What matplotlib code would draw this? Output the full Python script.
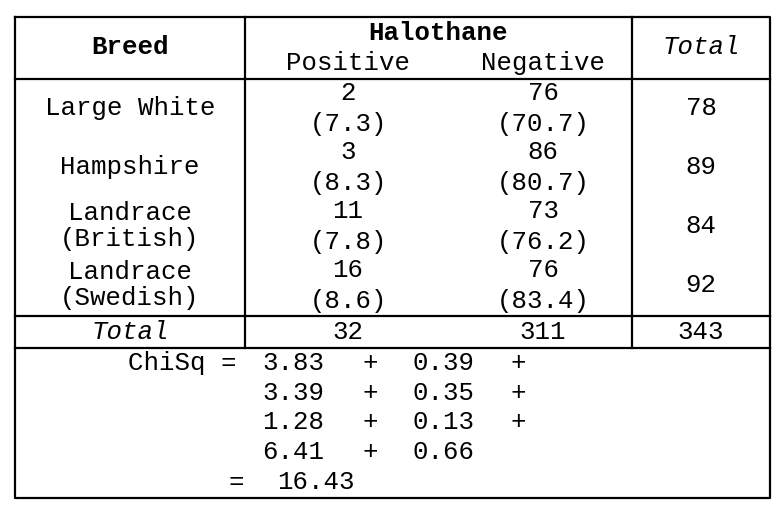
import matplotlib
matplotlib.use("Agg")
import matplotlib.pyplot as plt

breeds = ["Large White", "Hampshire", "Landrace\n(British)", "Landrace\n(Swedish)"]
positive = [2, 3, 11, 16]
negative = [76, 86, 73, 76]
exp_pos = [7.3, 8.3, 7.8, 8.6]
exp_neg = [70.7, 80.7, 76.2, 83.4]
totals = [78, 89, 84, 92]
total_pos, total_neg, grand_total = 32, 311, 343
chi_pos = [3.83, 3.39, 1.28, 6.41]
chi_neg = [0.39, 0.35, 0.13, 0.66]
chi_total = 16.43

fig = plt.figure(figsize=(7.81, 5.13), dpi=100)
ax = fig.add_axes([0, 0, 1, 1])
ax.set_xlim(0, 781); ax.set_ylim(513, 0); ax.axis("off")
F = dict(family="Liberation Mono", fontsize=18.5, ha="center", va="center", color="black")
lw = 1.6
ax.plot([15, 770, 770, 15, 15], [17, 17, 498, 498, 17], color="black", lw=lw)
for x in (245, 632):
    ax.plot([x, x], [17, 348], color="black", lw=lw)
for y in (79, 316, 348):
    ax.plot([15, 770], [y, y], color="black", lw=lw)

ax.text(130, 47, "Breed", fontweight="bold", **F)
ax.text(438, 33, "Halothane", fontweight="bold", **F)
ax.text(348, 63, "Positive", **F)
ax.text(543, 63, "Negative", **F)
ax.text(701, 47, "Total", style="italic", **F)

row_y = [108, 167, 226, 285]
for i, y in enumerate(row_y):
    ax.text(130, y, breeds[i], linespacing=1.1, **F)
    ax.text(348, y - 15, str(positive[i]), **F)
    ax.text(348, y + 16, f"({exp_pos[i]})", **F)
    ax.text(543, y - 15, str(negative[i]), **F)
    ax.text(543, y + 16, f"({exp_neg[i]})", **F)
    ax.text(701, y, str(totals[i]), **F)

ax.text(130, 332, "Total", style="italic", **F)
ax.text(348, 332, str(total_pos), **F)
ax.text(543, 332, str(total_neg), **F)
ax.text(701, 332, str(grand_total), **F)

L = dict(F); L["ha"] = "left"
ax.text(128, 363, "ChiSq =", **L)
for i in range(4):
    y = 363 + i * 29.7
    ax.text(262, y, f"{chi_pos[i]:.2f}", **L)
    ax.text(362, y, "+", **L)
    ax.text(413, y, f"{chi_neg[i]:.2f}", **L)
    if i < 3:
        ax.text(511, y, "+", **L)
ax.text(228, 482, "=", **L)
ax.text(277, 482, f"{chi_total:.2f}", **L)

fig.savefig("out.png", dpi=100)
